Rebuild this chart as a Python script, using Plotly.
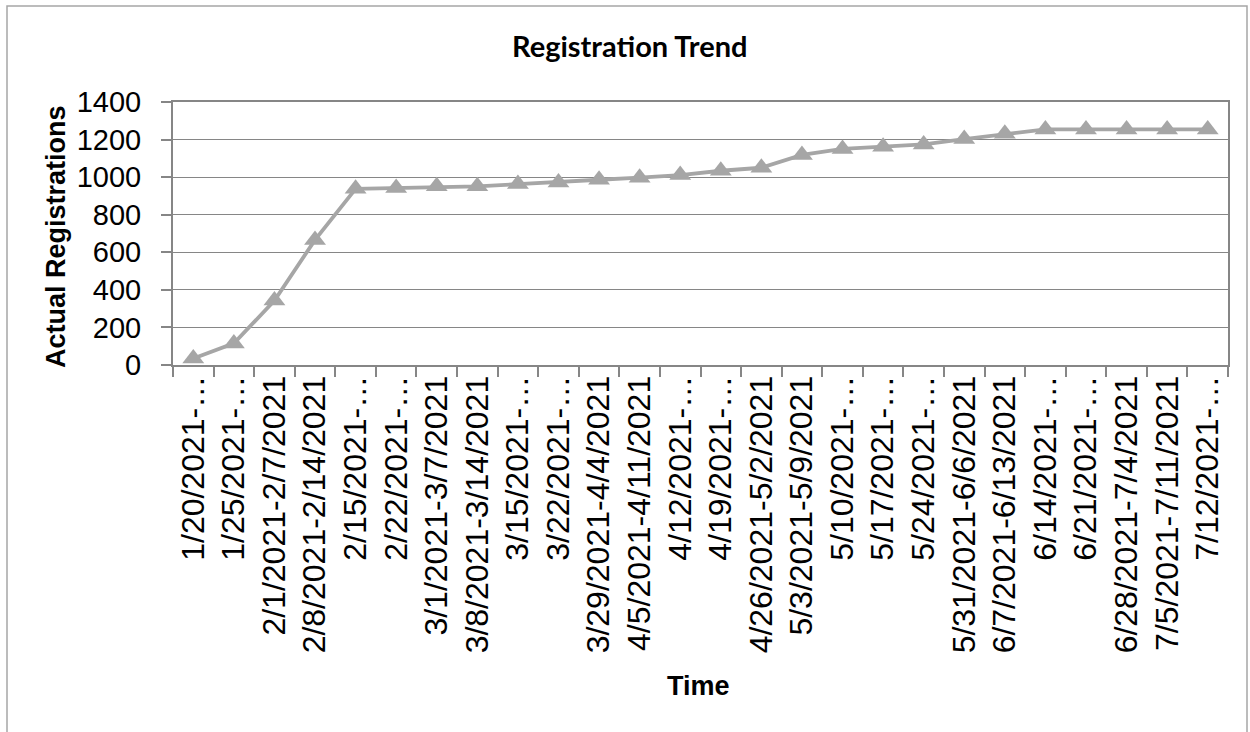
import plotly.graph_objects as go

# ---- data ----
week_labels = [
    "1/20/2021-…", "1/25/2021-…", "2/1/2021-2/7/2021", "2/8/2021-2/14/2021",
    "2/15/2021-…", "2/22/2021-…", "3/1/2021-3/7/2021", "3/8/2021-3/14/2021",
    "3/15/2021-…", "3/22/2021-…", "3/29/2021-4/4/2021", "4/5/2021-4/11/2021",
    "4/12/2021-…", "4/19/2021-…", "4/26/2021-5/2/2021", "5/3/2021-5/9/2021",
    "5/10/2021-…", "5/17/2021-…", "5/24/2021-…", "5/31/2021-6/6/2021",
    "6/7/2021-6/13/2021", "6/14/2021-…", "6/21/2021-…", "6/28/2021-7/4/2021",
    "7/5/2021-7/11/2021", "7/12/2021-…",
]
actual_registrations = [
    35, 115, 343, 666, 938, 942, 951, 951, 963, 972, 986, 997, 1011,
    1034, 1050, 1118, 1150, 1162, 1174, 1203, 1231, 1254, 1254, 1254, 1254, 1254,
]
y_tick_values = [0, 200, 400, 600, 800, 1000, 1200, 1400]

chart_title = "Registration Trend"
x_title = "Time"
y_title = "Actual Registrations"

# ---- layout geometry (pixels) ----
W, H = 1250, 732
L, R, T, B = 173, 22, 102, 367
pw, ph = W - L - R, H - T - B


def px_x(x):
    return (x - L) / pw


def px_y(y):
    return (H - B - y) / ph


grey = "#A6A6A6"
axis_grey = "#868686"
font_main = "Liberation Sans, Arial, sans-serif"

fig = go.Figure()
fig.add_trace(go.Scatter(
    x=week_labels,
    y=actual_registrations,
    mode="lines+markers",
    line=dict(color=grey, width=3.8),
    marker=dict(symbol="triangle-up", size=19, color=grey),
    showlegend=False,
))

fig.update_layout(
    width=W, height=H,
    margin=dict(l=L, r=R, t=T, b=B, autoexpand=False),
    paper_bgcolor="white",
    plot_bgcolor="white",
    font=dict(family=font_main, color="black"),
    xaxis=dict(
        type="category",
        tickangle=-90,
        tickson="boundaries",
        ticks="outside", ticklen=10, tickcolor=axis_grey, tickwidth=1.5,
        ticklabelstandoff=-4,
        showgrid=False,
        showline=True, linecolor=axis_grey, linewidth=2, mirror=True,
        tickfont=dict(size=32, family=font_main),
        range=[-0.5, len(week_labels) - 0.5],
    ),
    yaxis=dict(
        range=[0, 1400],
        tickvals=y_tick_values,
        ticks="outside", ticklen=10, tickcolor=axis_grey, tickwidth=1.5,
        ticklabelstandoff=14,
        showgrid=True, gridcolor=axis_grey, gridwidth=1.2,
        showline=True, linecolor=axis_grey, linewidth=2, mirror=True,
        tickfont=dict(size=29, family=font_main),
        zeroline=False,
    ),
    annotations=[
        dict(text="<b>" + chart_title + "</b>", xref="paper", yref="paper",
             x=px_x(630), y=px_y(46), showarrow=False, xanchor="center", yanchor="middle",
             font=dict(size=29, family="Lato, Liberation Sans, sans-serif")),
        dict(text="<b>" + x_title + "</b>", xref="paper", yref="paper",
             x=px_x(698), y=px_y(686), showarrow=False, xanchor="center", yanchor="middle",
             font=dict(size=27, family=font_main)),
        dict(text="<b>" + y_title + "</b>", xref="paper", yref="paper",
             x=px_x(56), y=px_y(237), showarrow=False, xanchor="center", yanchor="middle",
             textangle=-90,
             font=dict(size=27, family=font_main)),
    ],
    shapes=[
        dict(type="rect", xref="paper", yref="paper",
             x0=px_x(7), x1=px_x(1247), y0=px_y(745), y1=px_y(6),
             line=dict(color="#A6A6A6", width=1.5), fillcolor="rgba(0,0,0,0)"),
    ],
)

fig.write_html(
    "out.html",
    config={"displayModeBar": False},
    post_script="document.body.style.margin='0';document.body.style.overflow='hidden';",
)
